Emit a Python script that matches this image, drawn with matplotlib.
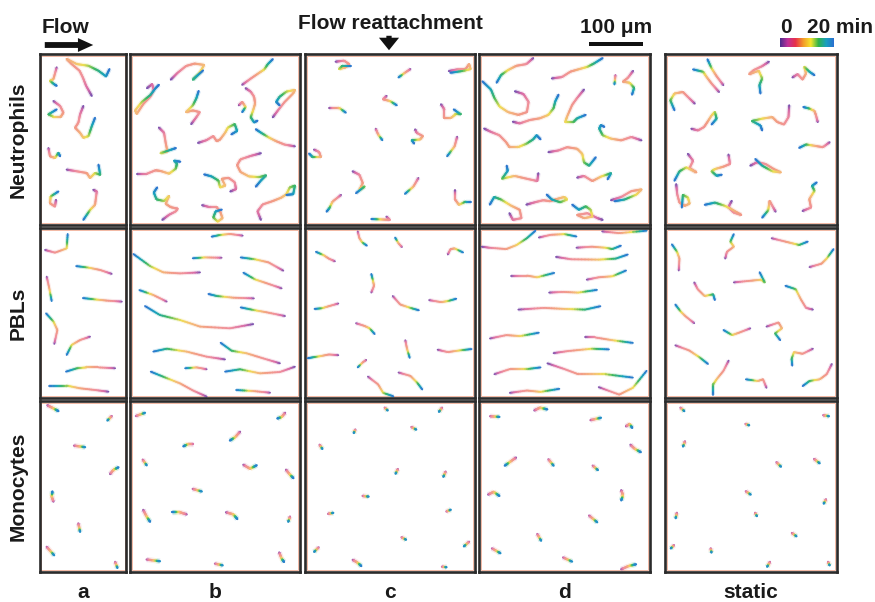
import numpy as np
import matplotlib
matplotlib.use("Agg")
import matplotlib.pyplot as plt
from matplotlib.collections import LineCollection
from matplotlib.colors import LinearSegmentedColormap
from matplotlib.patches import FancyArrowPatch, Rectangle

plt.rcParams['font.family'] = ['Liberation Sans', 'DejaVu Sans']

# track coordinates, panel units: x 0-100 (0-50 for column a), y 0-100 from top
# each track listed from 0 min to 20 min
neut_a = [
    [(30.1, 24.5), (26.8, 18.6), (24.9, 13.7), (23, 9.8), (18.4, 5.9), (15.5, 2.9), (21.4, 5.9), (28.2, 6.9), (34, 9.8), (38.4, 13.1), (40.4, 8.8)],
    [(9.7, 7.8), (7.8, 14.7), (5.8, 15.7), (8.1, 17.6), (9.7, 18.6)],
    [(7.8, 27.5), (11.7, 30.4), (13.6, 34.3), (12.1, 36.7), (7.8, 36.7), (4.9, 35.3), (9.7, 32.4)],
    [(25.2, 30.4), (23.3, 35.3), (22.3, 40.2), (20.4, 43.1), (23.3, 46.1), (25.2, 49), (28.2, 48), (30.1, 42.2), (32, 37.3)],
    [(4.9, 55), (5.8, 59.8), (8.7, 60.8), (10.7, 57.8), (11.7, 59.8)],
    [(15.5, 67.6), (21.4, 68.6), (27.2, 69.6), (29.1, 72.5), (32, 69.6), (35, 70.6), (34, 64.7)],
    [(31, 79.4), (33, 80.4), (32, 88.2), (29.1, 91.2), (25.2, 97)],
    [(9.3, 85.3), (8.7, 89.2), (5.8, 87.3), (6.2, 83.3), (10.7, 80.4)],
]
neut_b = [
    [(24, 15), (28, 11), (33, 7), (38, 5.6), (43.6, 6.4), (41, 11), (37, 15), (43, 9.6)],
    [(10, 20), (13, 17.6), (14, 21), (12, 25), (8, 29), (4, 35), (3, 33), (7, 28), (12, 24), (15, 20), (17, 18)],
    [(66, 18), (71, 14.4), (76, 11), (79, 9), (81, 6), (84, 3)],
    [(68, 20), (71, 22), (73, 25), (73.6, 29), (72.4, 33), (71, 37), (73, 40), (75, 39)],
    [(64, 30), (66, 28), (68, 31), (66, 34)],
    [(84, 37), (87, 33), (91, 28), (96, 23), (97, 21), (92, 22), (88, 25), (86, 28), (88, 30)],
    [(36, 41), (39, 37), (41, 34), (37, 33), (33, 34), (37, 30), (39, 26), (40.4, 21.6)],
    [(17, 43), (20, 46), (21, 52), (22, 57), (18, 58), (24, 56), (27, 55)],
    [(40, 52), (45, 50.4), (49, 48), (51, 51), (53, 50), (56, 46), (57.6, 43), (61.6, 41), (63, 45), (59.6, 47)],
    [(97, 54), (91, 53), (86, 51), (82, 49), (77, 46), (74, 44)],
    [(4, 70), (10, 70), (15, 68), (18, 68.4), (23, 70), (27, 67), (27.6, 64), (26, 62.4), (29.6, 63)],
    [(77, 58), (71, 59.6), (65, 61.6), (63, 65), (65, 69), (70, 71.6), (76, 72), (80, 71), (77, 74), (74, 77.6)],
    [(59, 80.4), (62.4, 79), (61.6, 75), (58, 72.4), (54, 73), (56, 77), (53, 78), (52, 74), (48, 71.6), (43.6, 70.4)],
    [(19, 97), (23, 94), (27, 92), (28, 90.4), (24, 89.6), (21, 87.6), (23, 83), (20, 86), (15.6, 85), (14, 81), (16, 78)],
    [(42.4, 88.4), (47, 89.6), (51, 89.6), (53, 92), (54.4, 96), (51.6, 98), (49, 95.6), (50.4, 92), (54, 91)],
    [(77, 97), (75, 92), (78, 88), (84, 86), (89, 84), (92, 82), (94, 78), (97, 77), (96, 82), (92, 82.4)],
]
neut_c = [
    [(18, 4.5), (23, 3.9), (26, 5.9), (24, 7.8), (20, 8.8), (22, 6.9), (27, 6.9)],
    [(62, 8.8), (59, 10.8), (55, 13.7)],
    [(84.6, 10), (89.5, 9), (94.5, 8.8), (96.5, 5.9), (97.4, 8.8), (93.5, 9.8), (85.5, 11)],
    [(48, 24.5), (45.9, 26.5), (50, 27.5), (54, 30)],
    [(14.3, 31.4), (20, 31.4), (24, 34.3)],
    [(80, 29.4), (82, 32.4), (82, 37.3), (86, 37.3), (88.5, 35.3), (91.5, 35.3), (87.5, 32.4)],
    [(41.6, 43.7), (43, 47), (45.5, 50.4)],
    [(64.8, 44.1), (65.7, 46.1), (69.3, 48), (67.7, 50), (62.8, 50.4), (64.2, 52.4)],
    [(89.5, 48.4), (88, 54), (83.6, 59.8)],
    [(5.3, 55.9), (8.3, 57.3), (9.3, 60.2), (4.4, 60.2), (2.4, 58.2)],
    [(28, 68.6), (32, 70.6), (34, 75.5), (32, 79.4), (35, 77.5), (30, 81.4)],
    [(66.7, 72.5), (63.8, 77.5), (58.8, 81.8)],
    [(21.2, 82.4), (16.2, 86.3), (14.3, 90.2), (12.7, 92.2)],
    [(88.5, 79.8), (88.5, 85.3), (90.5, 88.2), (94.5, 86.3), (97.4, 86.3)],
    [(47.9, 95.1), (49.9, 97), (44, 96.7), (39, 96.5)],
]
neut_d = [
    [(21, 21.8), (26, 23.4), (29, 28), (28, 34), (23, 35.6), (17, 34), (12, 30.7), (9, 25.7), (7, 20.8), (2, 16)],
    [(31.7, 2.4), (27.7, 5.9), (21.8, 6.9), (16.8, 9.5), (12.9, 12.3), (10.3, 16.8)],
    [(42.6, 14.3), (48.5, 13.5), (53.5, 10.3), (58.4, 8.9), (63.4, 7.5), (67.3, 5.5), (72.3, 2.4)],
    [(90.1, 9.9), (87.1, 13.9), (84.2, 16.2), (88.1, 16.8), (90.7, 19.8), (89.5, 23.8)],
    [(79.8, 12.3), (79.2, 17.8)],
    [(19.8, 39.6), (23.8, 40.6), (29.7, 38.6), (35.6, 37.6), (40.6, 35.6), (43.6, 31.7), (44.6, 27.7), (46.5, 23.8)],
    [(61.4, 20.8), (57.4, 25.7), (54.5, 29.7), (51.5, 36.6), (50.5, 39.6), (55.4, 39.6), (57.4, 37.6), (62.4, 35.6)],
    [(95, 50.5), (89.1, 48.5), (83.2, 50.5), (77.2, 49.5), (72.3, 47.5), (70.3, 43.6), (71.3, 41.6), (73.3, 42.6)],
    [(3, 43.6), (6.9, 45.5), (11.9, 47.5), (15.8, 51.5), (17.8, 54.5), (22.8, 54.5), (27.7, 52.5), (31.7, 49.9), (33.7, 47.5), (36, 49.9)],
    [(40.6, 57.4), (46.5, 56.4), (51.5, 54.5), (57.4, 55.4), (60.4, 58.4), (61.4, 63.4), (64.4, 65.3), (68.3, 60.4)],
    [(34.7, 69.7), (34.1, 74.3), (27.7, 72.9), (20.8, 71.3), (13.5, 72.9), (16.8, 68.3), (16.2, 65.3)],
    [(57.4, 72.3), (61.4, 71.3), (66.3, 74.3), (71.3, 71.7), (77.2, 69.7), (75.2, 73.3)],
    [(17.8, 93.1), (19.8, 97), (24.8, 96), (23.8, 91.1), (18.8, 88.7), (12.9, 85.1), (8.9, 83.6), (6.3, 88.1)],
    [(27.7, 88.1), (32.7, 86.7), (37.6, 85.5), (41.6, 86.1), (45.5, 84.8), (49.9, 83.6), (51.5, 85.1), (47.5, 86.7), (42.6, 85.1), (39.6, 82.2)],
    [(72.3, 97), (69.3, 96), (63.4, 93.1), (57.4, 94.1), (61.4, 96), (66.3, 95.1), (65.3, 91.1), (62.4, 89.1), (58.4, 91.1), (54.5, 88.1)],
    [(77.2, 85.5), (83.2, 83.6), (89.1, 80.2), (95, 79.2), (92.1, 82.2), (85.1, 85.1), (79.2, 86.1)],
]
neut_static = [
    [(31.4, 22.2), (27.1, 17.3), (24.1, 13.3), (22.2, 10.4), (16.3, 9)],
    [(33.9, 18.2), (30, 13), (27.1, 8.4), (24.7, 3.1)],
    [(60.4, 4.5), (56.5, 7.1), (51.6, 9.4), (49, 11.8), (54.5, 9.8), (56.5, 14.3), (54.9, 18.2), (55.5, 23.1)],
    [(74.1, 13.7), (77.1, 11.8), (80, 14.9), (82, 11.4), (81, 7.5), (84, 10.4), (86.9, 12.4)],
    [(17.3, 29), (13.3, 25.1), (10.4, 22.2), (5.5, 23.1), (3.1, 27.1), (5.5, 32.9)],
    [(15.3, 43.7), (19.2, 44.7), (22.7, 42.7), (24.7, 39.7), (27.1, 35.9), (29, 33.9), (30, 37.8), (27.1, 41.2)],
    [(72.2, 30), (71.8, 36.9), (69.2, 41.2), (65.3, 39.8), (62.4, 36.9), (56.5, 37.8), (50.6, 39.2), (55.5, 41.8), (56.5, 44.7)],
    [(88.8, 39.8), (87.8, 35.9), (86.9, 33.3), (83.9, 31.9), (80.4, 31)],
    [(95.7, 51.6), (91.8, 54.5), (85.9, 53.5), (82, 52.9), (78, 54.9)],
    [(13.3, 58.4), (16.3, 62.4), (14.3, 66.7), (18.2, 69.2), (12.4, 66.3), (8.4, 68.6), (5.5, 74.1)],
    [(36.9, 58.8), (37.8, 64.3), (33.9, 65.9), (29, 67.3), (27.1, 68.6), (30, 71.2), (33, 70.6)],
    [(49.6, 65.3), (53.5, 63.3), (58.4, 64.3), (63.3, 67.3), (67.3, 69.2), (62.4, 68.6), (56.5, 65.3), (52.5, 61.4)],
    [(6.5, 76.1), (7.1, 82), (8.4, 86.9), (11.4, 88.8), (14.3, 87.5), (13.3, 83.9), (10.4, 82.4), (9.8, 89.8)],
    [(38.8, 85.9), (36.9, 89.4), (39.8, 92.7), (44.3, 94.1), (39.8, 91.4), (34.9, 88.8), (29, 86.9), (23.1, 88.2)],
    [(64.3, 92.2), (62.4, 88.8), (60.8, 85.9), (60, 91.4), (56.5, 95.7)],
    [(80, 91.8), (84.9, 89.8), (83.9, 84.9), (86.9, 80), (85.5, 77.1), (88.2, 75.1)],
]

pbl_a = [
    [(2.9, 12.9), (8.7, 14.5), (15.5, 12), (16.1, 3.5)],
    [(41.7, 27), (35, 24.7), (28.2, 23.3), (21, 22.4)],
    [(3.9, 28.6), (5.4, 35.5), (6.8, 43)],
    [(47.6, 43.3), (38.8, 42.7), (32, 42), (24.9, 41.2)],
    [(8.3, 68.2), (10.1, 60), (7.8, 55), (3.5, 50.2)],
    [(29.1, 63.9), (23.3, 65.9), (18.4, 68.8), (15.5, 74.7)],
    [(43.7, 82.5), (34, 82), (27, 82), (21.5, 82.5), (15.1, 84.5)],
    [(39.8, 96.3), (32, 95.3), (23.3, 94.3), (15.5, 92.7), (5.4, 92.7)],
]
pbl_b = [
    [(66.3, 4.5), (58.8, 3.5), (52.9, 4.1), (48, 5.1)],
    [(41.2, 26.1), (29.4, 26.7), (19.6, 26.1), (11.8, 22.4), (2, 15.3)],
    [(53.9, 17.5), (44.1, 17.3), (36.9, 17.8)],
    [(90.2, 25.1), (81.4, 20.2), (73.5, 18.4), (65.1, 17.3)],
    [(89.2, 35.5), (80.4, 32.5), (73.5, 30.2), (66.7, 26.3)],
    [(21.6, 43.3), (13.7, 39.4), (5.5, 36.5)],
    [(72.9, 41.4), (60.8, 41), (51, 40), (46.1, 38.8)],
    [(72.5, 56.5), (58.8, 59), (41.2, 58), (29.4, 54.1), (17.6, 51.2), (8.8, 45.9)],
    [(91.2, 51.8), (80.4, 49.6), (72.5, 48.2), (65.1, 46.7)],
    [(55.9, 77.3), (45.1, 75.7), (33.3, 72.7), (21.6, 71), (13.7, 72.7)],
    [(88.2, 79.6), (78.4, 76.7), (68.6, 73.7), (59.8, 72.2), (53.3, 67.5)],
    [(45.1, 83.1), (39.2, 82), (32.4, 82.5)],
    [(97, 81.6), (88.2, 84.7), (76.5, 85.5), (64.7, 83.1), (55.9, 84.5)],
    [(45.1, 99.2), (37.3, 95.7), (29.4, 91.4), (19.6, 87.5), (12.2, 84.5)],
    [(82.4, 96.9), (72.5, 95.9), (62.4, 95.3)],
]
pbl_c = [
    [(31, 2), (32, 6), (33.6, 8.4), (36.4, 10.4)],
    [(57, 11.2), (55, 9), (53, 5.6)],
    [(84, 15.6), (85.6, 12.4), (88, 12), (93, 14.4)],
    [(17.6, 19.6), (14, 18), (11, 16), (6.4, 14)],
    [(39, 38), (40.6, 34), (40, 31), (39, 27)],
    [(51.6, 40), (56, 45), (62, 47), (67, 48.4)],
    [(73, 42.4), (80, 43.6), (84, 43), (89, 41.6)],
    [(19.6, 44.4), (14, 46), (10, 47.2), (5.6, 47.6)],
    [(30, 56), (35, 57.6), (38, 59), (41, 62.4)],
    [(59, 66), (60, 71), (61.6, 76.4)],
    [(78, 71.6), (84, 73), (91, 72), (98, 71.2)],
    [(19.6, 74.8), (14, 74.4), (9, 75.4), (5, 76), (1.6, 76.6)],
    [(36, 77.6), (34, 79), (31, 82)],
    [(55, 85), (62, 87), (66, 91), (69, 95)],
    [(37, 87.4), (43, 92), (46, 97), (52, 99)],
]
pbl_d = [
    [(1.6, 11), (6, 11.6), (16, 12.4), (22, 10), (28, 6), (33, 1.6)],
    [(35, 5.6), (42, 4), (50, 3.6), (57, 5)],
    [(72, 2), (82, 3), (98, 1.6)],
    [(57, 11.6), (66, 11), (74, 11.6), (78, 12.4), (83, 10.4)],
    [(45, 17), (54, 18.4), (70, 18.6), (80, 18), (87, 15.6)],
    [(19, 28), (28, 28), (34, 29), (44, 26.4)],
    [(63, 30.4), (70, 29), (78, 28.4), (86, 25)],
    [(41, 38), (49, 37.6), (58, 38), (69, 36.4)],
    [(23, 48), (38, 47), (50, 47.6), (62, 48), (71, 46)],
    [(6.4, 65), (16, 63), (24, 63.6), (35, 61.6)],
    [(62, 64.4), (68, 64.4), (78, 66), (90, 67.6)],
    [(43.6, 73.6), (52, 72.4), (66, 71), (76, 71.4)],
    [(40, 79.6), (50, 83), (58, 86), (74, 86), (90, 88)],
    [(9, 86), (18, 83), (28, 83), (36, 82)],
    [(70, 93.6), (82, 98), (90, 94), (98, 84)],
    [(18, 97), (28, 95.6), (36, 96.4), (47, 94.6)],
]
pbl_static = [
    [(8, 25), (8.4, 18), (7, 14), (4, 9.6)],
    [(35, 18), (36, 14), (40, 11), (38, 8), (40, 3.6)],
    [(62, 6), (70, 8), (74, 9), (78, 10), (83, 8)],
    [(84, 23), (91, 21), (94, 18), (98, 12.4)],
    [(40, 32), (50, 31), (56, 30.4), (58, 32), (55, 26)],
    [(17, 32), (19, 36), (23, 40), (28, 39), (29, 42.4)],
    [(86, 48), (82, 47), (79, 42), (76, 36), (70, 34)],
    [(17, 56), (12, 52), (9, 49), (6, 45)],
    [(49.6, 59), (43, 61.6), (39, 63), (34, 60)],
    [(59, 58), (66, 55.6), (68, 59), (64, 62), (67, 66)],
    [(6, 69), (14, 72), (20, 76), (25, 80)],
    [(37, 78), (34, 84), (30, 89), (28, 92), (28, 98)],
    [(86, 71), (80, 74), (75, 73), (73.6, 77), (74, 81)],
    [(97, 80), (94, 86), (90, 89), (84, 90), (80, 93)],
    [(59, 94), (57, 89), (54, 90), (47, 89)],
]

mono_a = [
    [(4.3, 2.5), (7.8, 4.3), (10.7, 5.9)], [(41.7, 8.8), (39.2, 11.4)], [(19.8, 26.1), (26.2, 27)],
    [(40.8, 42.7), (42.7, 40.2), (45.6, 38.8)], [(7.8, 58.8), (6.8, 55.9), (7.2, 52.9)],
    [(22.3, 71.6), (23.3, 76.5)], [(3.9, 85.3), (8.2, 90.2)], [(43.7, 94.1), (45, 97.6)],
]
mono_b = [
    [(3.5, 8.8), (8.8, 6.9)], [(91.2, 6.9), (89.2, 9.4), (86.7, 10.2)], [(37.3, 25.1), (34.3, 25.1), (31.4, 26.5)],
    [(64.7, 18), (61.8, 21.2), (58.8, 23.1)], [(7.5, 34.3), (9.8, 37.6)], [(66.7, 37.3), (70.6, 39.6), (74.5, 37.6)],
    [(91.8, 40.2), (94.1, 43.1), (96.1, 45.1)], [(36.9, 51.4), (42.2, 52.9)], [(7.8, 63.7), (9.8, 67.6), (11.8, 70.6)],
    [(33.3, 66.3), (29.4, 65.1), (24.5, 65.1)], [(56.5, 65.1), (60.8, 66.3), (63.1, 69)], [(94.1, 67.6), (93.1, 70.6)],
    [(9.8, 92.7), (17.6, 93.7)], [(50, 95.1), (54.5, 96.1)], [(87.8, 88.6), (89.2, 92.2), (90.6, 94.1)],
]
mono_c = [
    [(46.9, 3.9), (48.6, 5.5)], [(80.6, 3.9), (78.8, 6.3)], [(29.6, 16.7), (28.7, 18.7)], [(62.6, 15.2), (65.4, 16.7)],
    [(8.6, 25.6), (10.2, 28)], [(54.6, 39.8), (53.3, 42.5)], [(82.7, 41.3), (81.4, 44.3)], [(33.9, 55.5), (37.4, 55.9)],
    [(13.6, 66), (16.6, 65.4)], [(83.2, 64.6), (85.7, 63.6)], [(56.8, 79.7), (59.4, 81.1)], [(8, 85.6), (5.4, 88.2)],
    [(96.5, 82.3), (93.5, 85)], [(28.1, 92.9), (30.9, 94.5), (33.1, 96.5)], [(80.6, 96.9), (83.2, 97.2)],
]
mono_d = [
    [(6.5, 8.9), (11.9, 9.3)], [(32.4, 5.5), (35.6, 3.9), (39.9, 4.9)], [(65.2, 11.2), (71.3, 9.8)],
    [(86, 14.8), (88.1, 13.4), (89.6, 15.7)], [(88.6, 25.6), (91.1, 28), (94.6, 29.9)],
    [(21.6, 33.1), (18.4, 35.4), (15.1, 37.8)], [(40.6, 34.1), (43.6, 37.8)], [(66.5, 37.8), (69.5, 40.4)],
    [(5.4, 54.7), (8.6, 53.1), (11.9, 55.5)], [(83.2, 52.2), (84.2, 55.1), (83.2, 58.1)], [(64.4, 67), (69.1, 70.9)],
    [(34.1, 77.8), (36.3, 81.7)], [(7.6, 86.2), (12.5, 89)], [(49.2, 91.5), (54.4, 93.9)],
    [(83.2, 98.4), (87.5, 96.5), (91.8, 95.5)],
]
mono_static = [
    [(9, 3.9), (11.2, 5.9)], [(92, 8.3), (95.3, 8.9)], [(46.8, 13.4), (48.9, 14.2)], [(11.6, 23.6), (10.5, 26.6)],
    [(64.8, 35.8), (67.4, 38.4)], [(86.7, 33.9), (89.9, 36.4)], [(47, 52.8), (49.8, 54.7)], [(93.6, 57.5), (92.3, 60)],
    [(6.9, 65.4), (6.2, 68.5)], [(52.4, 65.4), (53.4, 67.3)], [(73.8, 77.2), (76.4, 79.1)], [(5.2, 84.3), (3.4, 86.2)],
    [(26.6, 86.2), (27, 88.6)], [(61, 94.1), (59.4, 96.9)], [(94.8, 94.1), (95.7, 96.1)],
]

col_labels = ['a', 'b', 'c', 'd', 'static']
row_labels = ['Neutrophils', 'PBLs', 'Monocytes']
panels = [
    [neut_a, neut_b, neut_c, neut_d, neut_static],
    [pbl_a, pbl_b, pbl_c, pbl_d, pbl_static],
    [mono_a, mono_b, mono_c, mono_d, mono_static],
]

# time colour scale, 0 min -> 20 min
bar_colors = ['#4b2c8c', '#c0309a', '#e8304a', '#f39a2a', '#f5e62e', '#2fb34a', '#1a9fc0', '#2a6fd0']
track_stops = [(0.0, '#6f4fb0'), (0.08, '#d66aa8'), (0.22, '#f0909c'), (0.42, '#f29c84'),
               (0.56, '#f5bb78'), (0.66, '#efdf52'), (0.78, '#3fb860'), (0.9, '#18a2c0'), (1.0, '#2f74d0')]
bar_cmap = LinearSegmentedColormap.from_list('time', bar_colors)
track_cmap = LinearSegmentedColormap.from_list('track', track_stops)

W, H = 875, 602
fig = plt.figure(figsize=(W / 100, H / 100), dpi=100)

cols_px = [(40, 86), (130, 170), (305, 170), (479, 171), (665, 172)]
rows_px = [(54, 171), (228, 170), (401, 171)]
line_w = [1.45, 1.3, 1.7]


def draw_tracks(ax, tracks, lw):
    for tr in tracks:
        p = np.array(tr, float)
        seg_len = np.hypot(*np.diff(p, axis=0).T)
        cum = np.concatenate([[0], np.cumsum(seg_len)])
        segs, cols = [], []
        n = 8
        for i in range(len(p) - 1):
            for k in range(n):
                a = p[i] + (p[i + 1] - p[i]) * k / n
                b = p[i] + (p[i + 1] - p[i]) * (k + 1) / n
                segs.append([a, b])
                cols.append(track_cmap((cum[i] + seg_len[i] * (k + 0.5) / n) / cum[-1]))
        ax.add_collection(LineCollection(segs, colors=cols, linewidths=lw * 2.2, alpha=0.22, capstyle='butt'))
        ax.add_collection(LineCollection(segs, colors=cols, linewidths=lw, capstyle='round'))


for r, (y0, h) in enumerate(rows_px):
    for c, (x0, w) in enumerate(cols_px):
        ax = fig.add_axes([x0 / W, 1 - (y0 + h) / H, w / W, h / H])
        ax.set_xlim(0, 50 if c == 0 else 100)
        ax.set_ylim(100, 0)
        ax.set_xticks([])
        ax.set_yticks([])
        for s in ax.spines.values():
            s.set_color('#2b2b2b')
            s.set_linewidth(1.9)
        ax.add_patch(Rectangle((0.012, 0.012), 0.976, 0.976, transform=ax.transAxes,
                               fill=False, edgecolor='#f2b8a4', lw=0.7))
        draw_tracks(ax, panels[r][c], line_w[r])

# labels
bold = dict(fontweight='bold', fontsize=15, color='#1a1a1a')
for (x0, w), lab in zip(cols_px, col_labels):
    fig.text((x0 + w / 2) / W, 1 - 598 / H, lab, ha='center', va='baseline', **bold)
for (y0, h), lab in zip(rows_px, row_labels):
    fig.text(18 / W, 1 - (y0 + h / 2) / H, lab, ha='center', va='center', rotation=90, **bold)

fig.text(42 / W, 1 - 33 / H, 'Flow', ha='left', va='baseline', **bold)
fig.add_artist(FancyArrowPatch((42 / W, 1 - 45 / H), (96 / W, 1 - 45 / H), transform=fig.transFigure,
                               arrowstyle='simple,head_length=1.1,head_width=1.0,tail_width=0.42',
                               mutation_scale=10, color='#111111', lw=0))

fig.text(390 / W, 1 - 29 / H, 'Flow reattachment', ha='center', va='baseline', **bold)
fig.add_artist(FancyArrowPatch((389 / W, 1 - 33 / H), (389 / W, 1 - 53 / H), transform=fig.transFigure,
                               arrowstyle='simple,head_length=0.9,head_width=1.45,tail_width=0.38',
                               mutation_scale=10, color='#111111', lw=0))

fig.text(616 / W, 1 - 33 / H, '100 μm', ha='center', va='baseline', **bold)
fig.add_artist(Rectangle((589 / W, 1 - 46 / H), 54 / W, 4 / H, transform=fig.transFigure,
                         color='#111111', lw=0))

fig.text(786 / W, 1 - 33 / H, '0', ha='center', va='baseline', **bold)
fig.text(807 / W, 1 - 33 / H, '20 min', ha='left', va='baseline', **bold)
cax = fig.add_axes([780 / W, 1 - 47 / H, 53 / W, 9 / H])
cax.imshow(np.linspace(0, 1, 256)[None, :], cmap=bar_cmap, aspect='auto')
cax.set_axis_off()

fig.savefig('out.png', dpi=100, facecolor='white')
